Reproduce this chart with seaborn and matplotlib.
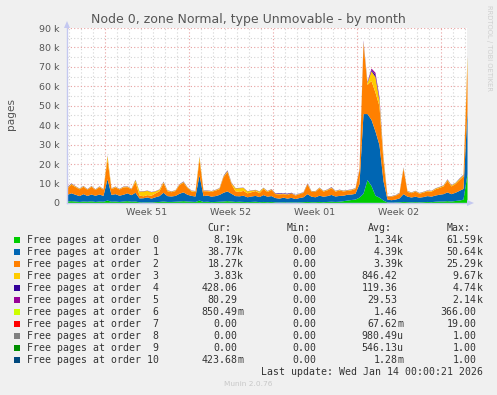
import numpy as np
import pandas as pd
import matplotlib
matplotlib.use("Agg")
import matplotlib.pyplot as plt
import matplotlib.dates as mdates
from matplotlib.ticker import MultipleLocator
from matplotlib.patches import Rectangle, Polygon
import seaborn as sns

# ---------------- data ----------------
title = "Node 0, zone Normal, type Unmovable - by month"
start = "2025-12-11 20:00"
end = "2026-01-14 04:00"
step = "8h"
week_labels = ["Week 51", "Week 52", "Week 01", "Week 02"]
week_label_pos = ["2025-12-18 12:00", "2025-12-25 12:00", "2026-01-01 12:00", "2026-01-08 12:00"]
y_ticks = [0, 10000, 20000, 30000, 40000, 50000, 60000, 70000, 80000, 90000]
y_tick_labels = ["0", "10 k", "20 k", "30 k", "40 k", "50 k", "60 k", "70 k", "80 k", "90 k"]

# values in thousands of pages (8-hour samples)
order0 = [1.0, 1.2, 1.0, 0.8, 1.0, 0.9, 1.1, 0.8, 1.0, 0.9,
          1.5, 0.9, 1.0, 0.8, 1.0, 1.2, 0.9, 1.0, 0.6, 0.5,
          0.6, 0.5, 0.7, 0.8, 1.0, 0.8, 0.8, 0.9, 1.0, 1.2,
          1.0, 0.9, 0.8, 1.5, 0.8, 0.9, 0.7, 0.8, 0.9, 1.0,
          1.2, 1.0, 0.8, 0.9, 0.8, 0.7, 0.8, 0.9, 0.7, 0.8,
          0.7, 0.8, 0.6, 0.5, 0.6, 0.5, 0.6, 0.5, 0.6, 0.7,
          0.8, 0.7, 0.7, 0.8, 0.7, 0.8, 0.9, 0.8, 0.9, 1.2,
          1.5, 1.8, 2.0, 3.0, 5.0, 12.0, 9.0, 4.0, 3.0, 1.5,
          0.5, 0.4, 0.5, 0.6, 0.8, 0.7, 0.6, 0.7, 0.6, 0.7,
          0.8, 0.7, 0.9, 1.0, 1.0, 1.2, 1.0, 1.3, 1.5, 2.0,
          15.0]
order1 = [3.5, 4.0, 3.5, 3.0, 3.8, 3.0, 3.5, 3.2, 3.6, 3.0,
          11.0, 3.5, 3.8, 3.2, 3.5, 4.0, 3.4, 4.5, 2.0, 2.2,
          2.5, 2.0, 2.5, 3.0, 4.5, 3.0, 2.8, 3.0, 4.0, 4.5,
          3.5, 3.0, 2.8, 13.0, 3.0, 3.2, 2.8, 3.0, 3.5, 4.5,
          5.0, 4.0, 3.0, 2.8, 3.2, 2.5, 2.8, 3.0, 2.6, 3.5,
          2.8, 3.0, 2.2, 2.0, 2.4, 2.0, 2.3, 1.8, 2.2, 2.5,
          4.0, 2.8, 2.5, 3.2, 2.8, 3.0, 3.5, 2.8, 3.0, 2.8,
          3.0, 2.8, 3.0, 7.0, 41.0, 34.0, 34.0, 33.0, 27.0, 10.0,
          1.5, 1.3, 1.5, 2.0, 4.0, 2.8, 2.5, 2.8, 2.4, 2.6,
          3.0, 2.8, 3.2, 3.5, 3.8, 4.5, 3.8, 4.2, 5.0, 5.5,
          33.0]
order2 = [3.5, 4.5, 4.0, 3.5, 3.8, 3.2, 4.0, 3.0, 3.8, 3.2,
          10.0, 3.0, 3.5, 3.2, 3.8, 3.2, 3.0, 5.5, 1.5, 1.0,
          1.2, 1.5, 2.0, 2.5, 5.0, 2.5, 2.2, 2.5, 4.5, 5.0,
          3.5, 2.3, 2.4, 8.0, 2.5, 2.2, 2.5, 2.8, 3.0, 8.0,
          10.0, 5.0, 2.5, 2.2, 2.5, 2.0, 2.2, 2.5, 2.0, 3.2,
          2.4, 3.2, 2.0, 2.2, 1.8, 2.0, 2.2, 1.8, 2.0, 2.3,
          5.0, 2.5, 2.8, 3.8, 2.6, 3.0, 3.5, 2.5, 2.8, 2.2,
          2.0, 2.2, 2.5, 7.0, 36.0, 15.0, 20.0, 20.0, 20.0, 10.0,
          1.5, 1.8, 2.0, 2.5, 13.0, 2.5, 2.2, 2.6, 2.0, 2.3,
          2.5, 2.6, 3.2, 3.5, 4.0, 6.0, 4.0, 4.5, 5.5, 6.5,
          24.0]
order3 = [0.3, 0.4, 0.3, 0.3, 0.3, 0.2, 0.3, 0.2, 0.3, 0.2,
          2.0, 0.3, 0.3, 0.2, 0.3, 0.3, 0.2, 1.0, 2.0, 2.5,
          2.2, 1.8, 1.0, 0.8, 0.5, 0.4, 0.3, 0.3, 0.3, 0.4,
          0.3, 0.3, 0.3, 1.5, 0.3, 0.3, 0.3, 0.3, 0.4, 0.4,
          0.5, 0.5, 1.5, 2.0, 1.5, 1.0, 0.8, 0.5, 0.8, 0.5,
          0.4, 0.3, 0.2, 0.2, 0.2, 0.2, 0.2, 0.2, 0.2, 0.2,
          0.3, 0.3, 0.3, 0.3, 0.3, 0.3, 0.3, 0.3, 0.3, 0.3,
          0.3, 0.3, 0.3, 0.5, 1.0, 1.0, 5.0, 8.0, 3.0, 2.0,
          0.2, 0.2, 0.2, 0.2, 0.5, 0.3, 0.3, 0.3, 0.3, 0.3,
          0.3, 0.3, 0.4, 0.4, 0.4, 0.5, 0.5, 0.5, 0.6, 0.6,
          3.5]
order4 = [0.2, 0.2, 0.1, 0.1, 0.1, 0.1, 0.1, 0.1, 0.1, 0.1,
          0.2, 0.1, 0.1, 0.1, 0.1, 0.1, 0.1, 0.2, 0.1, 0.1,
          0.1, 0.1, 0.1, 0.1, 0.2, 0.1, 0.1, 0.1, 0.1, 0.2,
          0.1, 0.1, 0.1, 0.2, 0.1, 0.1, 0.1, 0.1, 0.1, 0.2,
          0.3, 0.2, 0.1, 0.1, 0.1, 0.1, 0.1, 0.1, 0.1, 0.1,
          0.1, 0.1, 0.2, 0.3, 0.2, 0.3, 0.2, 0.1, 0.1, 0.1,
          0.2, 0.1, 0.1, 0.1, 0.1, 0.1, 0.2, 0.1, 0.1, 0.1,
          0.1, 0.1, 0.1, 0.3, 0.5, 0.3, 0.6, 1.2, 0.8, 0.4,
          0.1, 0.1, 0.1, 0.1, 0.2, 0.1, 0.1, 0.1, 0.1, 0.1,
          0.1, 0.1, 0.1, 0.1, 0.1, 0.2, 0.1, 0.1, 0.2, 0.2,
          0.4]
order5 = [0.03, 0.03, 0.03, 0.03, 0.03, 0.03, 0.03, 0.03, 0.03, 0.03,
          0.05, 0.03, 0.03, 0.03, 0.03, 0.03, 0.03, 0.03, 0.03, 0.03,
          0.03, 0.03, 0.03, 0.03, 0.03, 0.03, 0.03, 0.03, 0.03, 0.03,
          0.03, 0.03, 0.03, 0.05, 0.03, 0.03, 0.03, 0.03, 0.03, 0.03,
          0.03, 0.03, 0.03, 0.03, 0.03, 0.03, 0.03, 0.03, 0.03, 0.03,
          0.03, 0.03, 0.03, 0.03, 0.03, 0.03, 0.03, 0.03, 0.03, 0.03,
          0.03, 0.03, 0.03, 0.03, 0.03, 0.03, 0.03, 0.03, 0.03, 0.03,
          0.03, 0.03, 0.03, 0.05, 0.3, 0.2, 0.8, 1.0, 0.8, 0.3,
          0.03, 0.03, 0.03, 0.03, 0.03, 0.03, 0.03, 0.03, 0.03, 0.03,
          0.03, 0.03, 0.03, 0.03, 0.03, 0.03, 0.03, 0.03, 0.03, 0.03,
          0.1]

series_names = ["Free pages at order  0", "Free pages at order  1", "Free pages at order  2",
                "Free pages at order  3", "Free pages at order  4", "Free pages at order  5",
                "Free pages at order  6", "Free pages at order  7", "Free pages at order  8",
                "Free pages at order  9", "Free pages at order 10"]
series_colors = ["#00CC00", "#0066B3", "#FF8000", "#FFCC00", "#330099", "#990099",
                 "#CCFF00", "#FF0000", "#808080", "#008F00", "#00487D"]
cur_vals = ["8.19k", "38.77k", "18.27k", "3.83k", "428.06", "80.29", "850.49m", "0.00", "0.00", "0.00", "423.68m"]
min_vals = ["0.00"] * 11
avg_vals = ["1.34k", "4.39k", "3.39k", "846.42", "119.36", "29.53", "1.46", "67.62m", "980.49u", "546.13u", "1.28m"]
max_vals = ["61.59k", "50.64k", "25.29k", "9.67k", "4.74k", "2.14k", "366.00", "19.00", "1.00", "1.00", "1.00"]
last_update = "Last update: Wed Jan 14 00:00:21 2026"
footer = "Munin 2.0.76"
side_text = "RRDTOOL / TOBI OETIKER"

# ---------------- figure ----------------
sns.set_theme(style="white")
plt.rcParams['font.family'] = ['DejaVu Sans']

W, H = 497, 395
fig = plt.figure(figsize=(W / 100, H / 100), dpi=100, facecolor="#F0F0F0")
L, R, T, B = 67, 467, 28, 203
ax = fig.add_axes([L / W, 1 - B / H, (R - L) / W, (B - T) / H])
ax.set_facecolor("white")

times = pd.date_range(start, periods=len(order0), freq=step)
df = pd.DataFrame({series_names[0]: order0, series_names[1]: order1, series_names[2]: order2,
                   series_names[3]: order3, series_names[4]: order4, series_names[5]: order5},
                  index=times) * 1000.0
palette = sns.color_palette(series_colors)
ax.stackplot(df.index, *[df[c].values for c in df.columns],
             colors=palette[:len(df.columns)], linewidth=0, zorder=2)

ax.set_xlim(pd.Timestamp(start), pd.Timestamp(end))
ax.set_ylim(0, 90000)

ax.xaxis.set_major_locator(mdates.WeekdayLocator(byweekday=mdates.MO))
ax.xaxis.set_minor_locator(mdates.DayLocator())
ax.yaxis.set_major_locator(MultipleLocator(10000))
ax.yaxis.set_minor_locator(MultipleLocator(5000))
ax.set_xticklabels([])
ax.set_yticks(y_ticks, labels=y_tick_labels)
ax.grid(which="major", color="#E8A0A0", linestyle=(0, (1, 2)), linewidth=0.8)
ax.grid(which="minor", color="#D4D4D4", linestyle=(0, (1, 2)), linewidth=0.8)
ax.set_axisbelow(True)
ax.tick_params(axis="both", which="both", length=0)
ax.tick_params(axis="y", pad=5.5, labelsize=6.8, labelcolor="#555555")

for s in ["top", "right"]:
    ax.spines[s].set_visible(False)
for s in ["left", "bottom"]:
    ax.spines[s].set_color("#C4C8F0")
    ax.spines[s].set_linewidth(1.0)
    ax.spines[s].set_zorder(3)

for lab, pos in zip(week_labels, week_label_pos):
    ax.text(pd.Timestamp(pos), -0.055, lab, transform=ax.get_xaxis_transform(),
            ha="center", va="center", fontsize=6.8, color="#555555")


def fx(x):
    return x / W


def fy(y):
    return 1 - y / H


# axis arrows
fig.add_artist(Polygon([(fx(L - 3), fy(28)), (fx(L + 3), fy(28)), (fx(L), fy(21))],
                       closed=True, facecolor="#C4C8F0", edgecolor="none", transform=fig.transFigure))
fig.add_artist(Polygon([(fx(R), fy(B - 3)), (fx(R), fy(B + 3)), (fx(R + 7), fy(B))],
                       closed=True, facecolor="#C4C8F0", edgecolor="none", transform=fig.transFigure))

# title, labels
fig.text(fx(248.7), fy(19.3), title, ha="center", va="center", fontsize=9.0, color="#555555")
fig.text(fx(11), fy(114), "pages", rotation=90, ha="center", va="center", fontsize=7.6, color="#555555")
fig.text(fx(488.5), fy(5), side_text, rotation=270, ha="center", va="top", fontsize=4.9, color="#CFCFCF")

# legend
mono = "DejaVu Sans Mono"
fs = 7.15
cw = 5.97
col_ends = [243.3, 322.7, 403.3, 482.7]
headers = ["Cur:", "Min:", "Avg:", "Max:"]
for h, ce in zip(headers, col_ends):
    fig.text(fx(ce - 2 * cw), fy(228.3), h, ha="right", va="center", family=mono, fontsize=fs, color="#333333")


def put_value(s, ce, y):
    if s[-1].isalpha():
        num, suf = s[:-1], s[-1]
    else:
        num, suf = s, ""
    fig.text(fx(ce - cw), fy(y), num, ha="right", va="center", family=mono, fontsize=fs, color="#333333")
    if suf:
        fig.text(fx(ce - cw), fy(y), suf, ha="left", va="center", family=mono, fontsize=fs, color="#333333")


for k, (name, col) in enumerate(zip(series_names, series_colors)):
    y = 239.7 + 12 * k
    fig.add_artist(Rectangle((fx(14), fy(y + 3)), 6 / W, 6 / H, facecolor=col, edgecolor="none",
                             transform=fig.transFigure))
    fig.text(fx(26.7), fy(y), name, ha="left", va="center", family=mono, fontsize=fs, color="#333333")
    for vals, ce in zip([cur_vals, min_vals, avg_vals, max_vals], col_ends):
        put_value(vals[k], ce, y)

fig.text(fx(482.7), fy(371.7), last_update, ha="right", va="center", family=mono, fontsize=fs, color="#333333")
fig.text(fx(248), fy(384.3), footer, ha="center", va="center", fontsize=5.3, color="#C8C8C8")

fig.savefig("out.png", dpi=100, facecolor=fig.get_facecolor())
